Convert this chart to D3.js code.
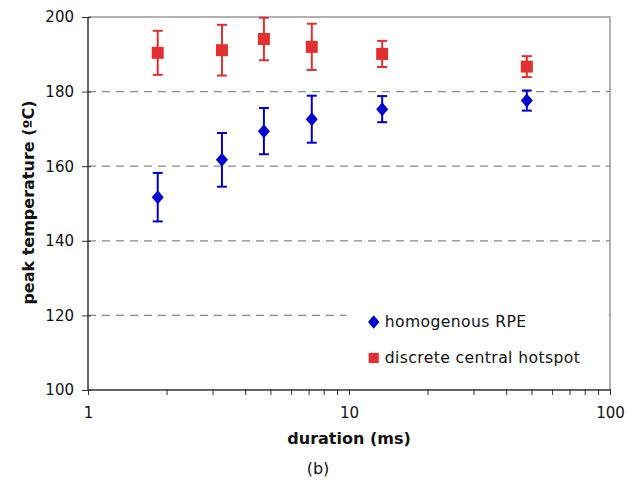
<!DOCTYPE html>
<html>
<head>
<meta charset="utf-8">
<script src="https://cdn.jsdelivr.net/npm/d3@7"></script>
<style>
  body { margin: 0; background: #fff; }
  text { font-family: "DejaVu Sans", Verdana, sans-serif; fill: #111; }
</style>
</head>
<body>
<svg id="chart" width="632" height="483"></svg>
<script>
// data
var durations = [1.85, 3.26, 4.72, 7.2, 13.4, 48];
var rpeMean = [151.7, 161.7, 169.4, 172.6, 175.3, 177.6];
var rpeErr = [6.5, 7.2, 6.2, 6.3, 3.5, 2.7];
var hotMean = [190.4, 191.1, 194.1, 192.0, 190.1, 186.7];
var hotErr = [5.9, 6.8, 5.7, 6.2, 3.5, 2.8];
var yTicks = [100, 120, 140, 160, 180, 200];
var xMajor = [1, 10, 100];
var seriesNames = ["homogenous RPE", "discrete central hotspot"];

var blue = "#0000cc", red = "#e03030";

var svg = d3.select("#chart");
var margin = {top: 17, right: 22, bottom: 93, left: 88};
var width = 632 - margin.left - margin.right,
    height = 483 - margin.top - margin.bottom;

var g = svg.append("g").attr("transform", "translate(" + margin.left + "," + margin.top + ")");

var x = d3.scaleLog().domain([1, 100]).range([0, width]);
var y = d3.scaleLinear().domain([100, 200]).range([height, 0]);

// dashed gridlines
g.selectAll(".grid")
  .data(yTicks.filter(function(d){ return d > 100 && d < 200; }))
  .enter().append("line")
  .attr("class", "grid")
  .attr("x1", 0).attr("x2", width)
  .attr("y1", function(d){ return y(d); })
  .attr("y2", function(d){ return y(d); })
  .attr("stroke", "#888")
  .attr("stroke-width", 1.2)
  .attr("stroke-dasharray", "8,6");

// top / right frame in grey
g.append("path")
  .attr("d", "M0,0H" + width + "V" + height)
  .attr("fill", "none")
  .attr("stroke", "#999")
  .attr("stroke-width", 1.5);

// y axis
var yAxis = g.append("g")
  .call(d3.axisLeft(y).tickValues(yTicks).tickSize(6).tickPadding(8));
yAxis.select(".domain").attr("stroke", "#333").attr("stroke-width", 1.5).attr("d", "M0,0V" + height);
yAxis.selectAll(".tick line").attr("stroke", "#333").attr("x2", -6).attr("x1", 3);
yAxis.selectAll(".tick text").attr("font-size", 15).style("font-family", "DejaVu Sans").attr("fill", "#111");

// x axis with log minor ticks
var xAxis = g.append("g")
  .attr("transform", "translate(0," + height + ")")
  .call(d3.axisBottom(x).tickValues(x.ticks()).tickSize(5).tickFormat(function(d){
    return xMajor.indexOf(d) >= 0 ? d3.format("d")(d) : "";
  }).tickPadding(12));
xAxis.select(".domain").attr("stroke", "#333").attr("stroke-width", 1.5).attr("d", "M0,0H" + width);
xAxis.selectAll(".tick line").attr("stroke", "#333").attr("y1", -1);
xAxis.selectAll(".tick text").attr("font-size", 15).style("font-family", "DejaVu Sans").attr("fill", "#111");

// legend box covering grid
var legend = g.append("g").attr("transform", "translate(" + (x(9.8)) + "," + (y(124)) + ")");
legend.append("rect").attr("width", 262).attr("height", 78).attr("fill", "#fff");

function drawSeries(cls, means, errs, color, shape) {
  var grp = g.append("g").attr("class", cls);
  var pts = grp.selectAll("g").data(durations).enter().append("g");
  pts.append("line")
    .attr("x1", function(d){ return x(d); }).attr("x2", function(d){ return x(d); })
    .attr("y1", function(d, i){ return y(means[i] - errs[i]); })
    .attr("y2", function(d, i){ return y(means[i] + errs[i]); })
    .attr("stroke", color).attr("stroke-width", 2);
  [-1, 1].forEach(function(s){
    pts.append("line")
      .attr("x1", function(d){ return x(d) - 5; }).attr("x2", function(d){ return x(d) + 5; })
      .attr("y1", function(d, i){ return y(means[i] + s * errs[i]); })
      .attr("y2", function(d, i){ return y(means[i] + s * errs[i]); })
      .attr("stroke", color).attr("stroke-width", 2);
  });
  pts.append("path")
    .attr("d", shape)
    .attr("transform", function(d, i){ return "translate(" + x(d) + "," + y(means[i]) + ")"; })
    .attr("fill", color);
}

var diamond = "M0,-7L6,0L0,7L-6,0Z";
var square = "M-6,-6H6V6H-6Z";
drawSeries("rpe", rpeMean, rpeErr, blue, diamond);
drawSeries("hot", hotMean, hotErr, red, square);

// legend entries
var entries = [{name: seriesNames[0], color: blue, shape: diamond},
               {name: seriesNames[1], color: red, shape: square}];
entries.forEach(function(e, i){
  var row = legend.append("g").attr("transform", "translate(27," + (21.5 + i * 36) + ")");
  row.append("path").attr("d", e.shape).attr("fill", e.color)
    .attr("transform", i == 0 ? "scale(0.95)" : "scale(0.85)");
  row.append("text").attr("x", 11).attr("y", 5.5).attr("font-size", 15.6)
    .attr("letter-spacing", 0.4).text(e.name);
});

// axis titles
svg.append("text")
  .attr("x", margin.left + width / 2).attr("y", 444)
  .attr("text-anchor", "middle").attr("font-size", 16).attr("font-weight", "bold")
  .text("duration (ms)");
svg.append("text")
  .attr("transform", "translate(34," + (margin.top + height / 2 - 1) + ") rotate(-90)")
  .attr("text-anchor", "middle").attr("font-size", 16).attr("font-weight", "bold")
  .text("peak temperature (ºC)");
svg.append("text")
  .attr("x", 318).attr("y", 474)
  .attr("text-anchor", "middle").attr("font-size", 16)
  .text("(b)");
</script>
</body>
</html>
